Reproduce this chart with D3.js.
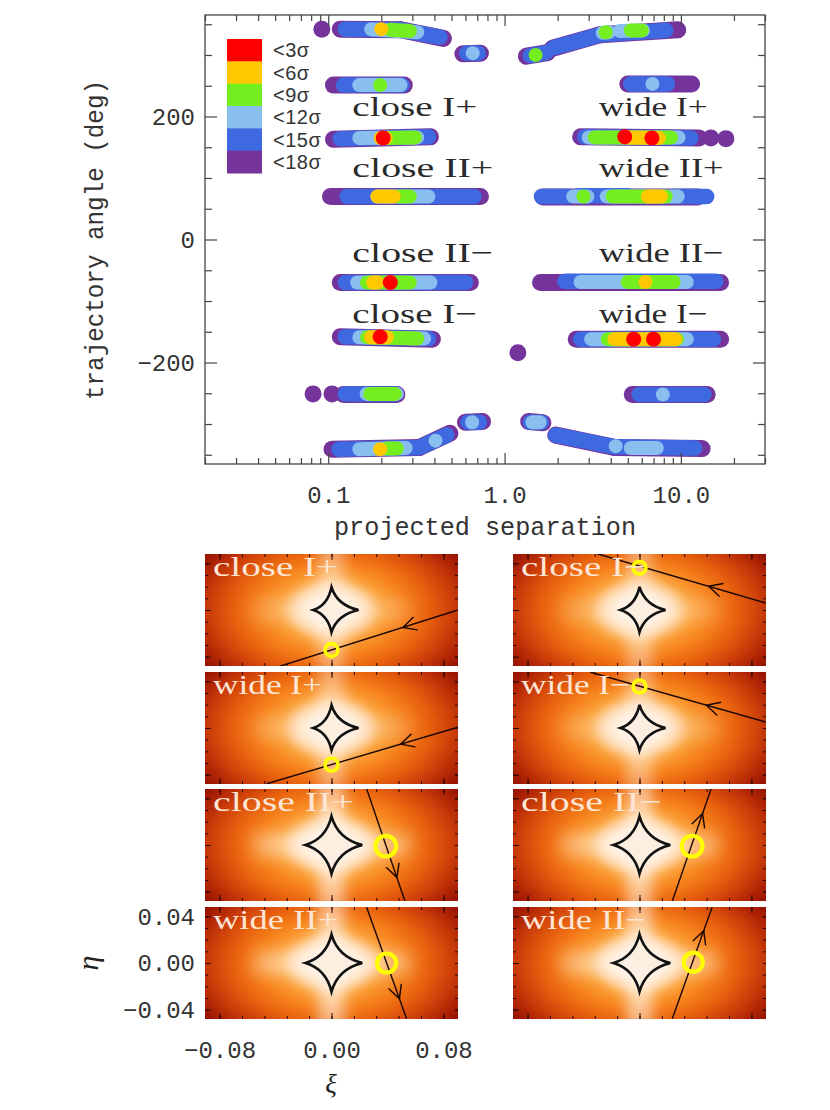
<!DOCTYPE html>
<html>
<head>
<meta charset="utf-8">
<script src="https://cdn.jsdelivr.net/npm/d3@7"></script>
<style>
  body { margin: 0; background: #fff; }
  svg { display: block; }
</style>
</head>
<body>
<svg width="830" height="1110"></svg>
<script>
// ---------- data ----------
const levels = ["<3σ", "<6σ", "<9σ", "<12σ", "<15σ", "<18σ"];
const levelColors = ["#ff0000", "#ffc800", "#74ee1e", "#88bfef", "#3f69e0", "#75349b"];

// runs of overlapping fits: [level, sepStart, sepEnd, angleStart, angleEnd]
const closeRuns = [
  [5, 0.092, 0.092, 342, 342], [5, 0.117, 0.257, 342, 341], [5, 0.257, 0.45, 341, 327],
  [4, 0.125, 0.257, 342, 341], [4, 0.257, 0.43, 341, 329], [3, 0.175, 0.32, 342, 337],
  [2, 0.225, 0.29, 341, 339], [1, 0.2, 0.2, 342, 342],
  [5, 0.58, 0.73, 302, 303], [4, 0.61, 0.71, 303, 303], [3, 0.66, 0.66, 303, 303],
  [5, 0.107, 0.27, 251, 251], [4, 0.122, 0.262, 251, 251], [3, 0.15, 0.257, 251, 251],
  [2, 0.197, 0.197, 251, 251],
  [5, 0.107, 0.38, 163, 167], [4, 0.117, 0.37, 164, 167], [3, 0.15, 0.32, 165, 166],
  [2, 0.22, 0.31, 165, 166], [1, 0.198, 0.212, 165, 165], [0, 0.205, 0.205, 165, 165],
  [5, 0.103, 0.73, 70, 70], [4, 0.128, 0.67, 70, 70], [3, 0.19, 0.37, 70, 70],
  [2, 0.25, 0.29, 70, 70], [1, 0.19, 0.235, 70, 70],
  [5, 0.117, 0.64, -70, -70], [4, 0.125, 0.6, -70, -70], [3, 0.146, 0.38, -70, -70],
  [2, 0.166, 0.29, -70, -70], [1, 0.18, 0.19, -70, -70], [0, 0.225, 0.225, -70, -70],
  [5, 0.117, 0.39, -158, -162], [4, 0.125, 0.37, -158, -161], [3, 0.15, 0.35, -159, -161],
  [2, 0.166, 0.32, -159, -161], [1, 0.175, 0.215, -159, -159], [0, 0.197, 0.197, -158, -158],
  [5, 0.082, 0.082, -251, -251], [5, 0.105, 0.105, -251, -251], [5, 0.122, 0.245, -252, -252],
  [4, 0.125, 0.24, -251, -251], [3, 0.165, 0.245, -251, -251], [2, 0.173, 0.238, -251, -251],
  [5, 0.105, 0.33, -341, -338], [5, 0.33, 0.49, -338, -315], [4, 0.115, 0.33, -341, -338],
  [4, 0.33, 0.47, -338, -318], [3, 0.15, 0.275, -341, -339], [3, 0.406, 0.406, -327, -327],
  [2, 0.215, 0.245, -340, -340], [1, 0.197, 0.197, -341, -341],
  [5, 0.6, 0.75, -297, -296], [4, 0.62, 0.72, -297, -297], [3, 0.655, 0.655, -297, -297],
  [5, 1.19, 1.19, -184, -184]
];
const wideRuns = [
  [5, 1.33, 1.75, 298, 304], [4, 1.4, 1.72, 299, 304], [2, 1.5, 1.5, 300, 300],
  [5, 1.87, 3.5, 311, 333], [5, 3.5, 9.6, 333, 341], [4, 1.9, 3.5, 312, 333],
  [4, 3.5, 8.2, 333, 340], [3, 3.6, 3.9, 336, 337], [3, 4.5, 6.1, 339, 340],
  [2, 3.75, 3.75, 337, 337], [2, 5.2, 6.0, 340, 340],
  [5, 5.0, 11.5, 253, 253], [4, 5.2, 8.4, 253, 253], [3, 6.9, 6.9, 253, 253],
  [5, 2.7, 12.7, 167, 165], [5, 14.8, 14.8, 165, 165], [5, 18.0, 18.0, 164, 164],
  [4, 2.85, 11.4, 167, 165], [3, 3.0, 9.7, 166, 166], [2, 3.25, 8.8, 166, 166],
  [1, 5.0, 7.5, 166, 165], [0, 4.8, 4.8, 167, 167], [0, 6.85, 6.85, 165, 165],
  [5, 1.65, 12.5, 69, 69], [4, 1.62, 2.3, 70, 70], [4, 2.6, 5.0, 71, 71],
  [4, 9.0, 14.0, 70, 70], [3, 2.45, 2.95, 70, 70], [3, 3.8, 9.6, 70, 70],
  [2, 2.8, 2.8, 70, 70], [2, 4.1, 8.2, 70, 70], [1, 6.5, 7.7, 70, 70],
  [5, 1.6, 16.8, -70, -70], [4, 2.2, 15.8, -68, -68], [3, 2.7, 10.8, -69, -69],
  [2, 5.0, 9.1, -69, -69], [1, 6.3, 6.3, -69, -69],
  [5, 2.55, 16.8, -162, -162], [4, 2.7, 15.3, -162, -162], [3, 3.1, 10.8, -162, -162],
  [2, 3.85, 9.5, -162, -162], [1, 4.2, 9.3, -162, -162], [0, 5.4, 5.4, -162, -162],
  [0, 7.0, 7.0, -162, -162],
  [5, 5.3, 14.1, -252, -252], [4, 5.8, 13.5, -252, -252], [3, 7.9, 7.9, -252, -252],
  [5, 1.37, 1.65, -296, -298], [4, 1.4, 1.62, -297, -297], [3, 1.44, 1.58, -297, -297],
  [5, 1.95, 4.2, -318, -338], [5, 4.2, 13.2, -338, -340], [4, 1.95, 4.2, -318, -337],
  [4, 4.2, 12.0, -337, -339], [3, 4.27, 4.27, -336, -336], [3, 5.2, 7.3, -339, -339]
];

const sepTicks = [0.1, 1, 10];
const sepTickLabels = ["0.1", "1.0", "10.0"];
const angleTicks = [-200, 0, 200];

const topLabels = ["close I+", "close II+", "close II−", "close I−", "wide I+", "wide II+", "wide II−", "wide I−"];
const topLabelSep = [0.137, 0.137, 0.137, 0.137, 3.42, 3.42, 3.42, 3.42];
const topLabelAngle = [200, 102, -36, -135, 200, 102, -36, -135];

// lower panels (xi, eta), order: row by row, left then right
const panelNames = ["close I+", "close I−", "wide I+", "wide I−", "close II+", "close II−", "wide II+", "wide II−"];
const trajStart = [[0.0904, 0.0], [0.0904, 0.006], [0.0904, 0.0007], [0.0904, 0.005],
                   [0.0251, 0.0482], [0.0234, -0.0482], [0.0251, 0.0478], [0.0234, -0.0478]];
const trajEnd = [[-0.0368, -0.0482], [-0.0302, 0.0482], [-0.0463, -0.0478], [-0.035, 0.0478],
                 [0.0525, -0.0482], [0.0512, 0.0482], [0.0537, -0.0478], [0.0519, 0.0478]];
const arrowAt = [0.31, 0.34, 0.30, 0.34, 0.79, 0.78, 0.82, 0.79];
const sourcePos = [[0, -0.0343], [0, 0.0362], [0, -0.0314], [0, 0.0356],
                   [0.0388, -0.001], [0.0376, -0.001], [0.0394, 0.0], [0.0384, 0.0007]];
const sourceRadius = [0.0046, 0.0046, 0.0046, 0.0046, 0.0074, 0.0074, 0.0068, 0.0068];
// cusps: [left xi, right xi, top eta, bottom eta]
const causticCusps = [
  [-0.013, 0.0193, 0.0195, -0.019], [-0.0135, 0.0186, 0.0198, -0.019],
  [-0.013, 0.0193, 0.0195, -0.019], [-0.0135, 0.0186, 0.0198, -0.019],
  [-0.0186, 0.022, 0.0246, -0.0246], [-0.0186, 0.022, 0.0246, -0.0246],
  [-0.0186, 0.022, 0.0243, -0.0246], [-0.0186, 0.022, 0.0246, -0.0246]
];
const xiTicks = [-0.08, 0, 0.08];
const etaTicks = [-0.04, 0, 0.04];

// ---------- drawing ----------
const svg = d3.select("svg");
const ink = "#444";
const monoFont = "'Liberation Mono', 'DejaVu Sans Mono', monospace";
const serifFont = "'Liberation Serif', 'DejaVu Serif', serif";

const x = d3.scaleLog().domain([0.02, 30]).range([205, 765]);
const y = d3.scaleLinear().domain([-365, 365]).range([464, 15]);

const runs = closeRuns.concat(wideRuns)
  .map(r => ({lvl: r[0], s0: r[1], s1: r[2], a0: r[3], a1: r[4]}));
const bandWidth = [15, 14, 14, 14, 15.5, 17];

const marks = svg.append("g");
d3.groups(runs, d => d.lvl).sort((a, b) => b[0] - a[0]).forEach(([lvl, rs]) => {
  const g = marks.append("g");
  g.selectAll("line")
    .data(rs.filter(d => d.s0 !== d.s1 || d.a0 !== d.a1))
    .join("line")
    .attr("x1", d => x(d.s0)).attr("x2", d => x(d.s1))
    .attr("y1", d => y(d.a0)).attr("y2", d => y(d.a1))
    .attr("stroke", levelColors[lvl])
    .attr("stroke-width", bandWidth[lvl])
    .attr("stroke-linecap", "round");
  g.selectAll("circle")
    .data(rs.filter(d => d.s0 === d.s1 && d.a0 === d.a1))
    .join("circle")
    .attr("cx", d => x(d.s0)).attr("cy", d => y(d.a0))
    .attr("r", bandWidth[lvl] / 2)
    .attr("fill", levelColors[lvl]);
});

// frame and ticks
function styleAxis(g) {
  g.select(".domain").remove();
  g.selectAll(".tick line").attr("stroke", ink).attr("stroke-width", 1.2);
  g.selectAll("text").attr("font-family", monoFont).attr("font-size", 24).attr("fill", "#333");
}
const sepMinor = x.ticks().filter(v => !sepTicks.some(t => Math.abs(t - v) < 1e-9));
const angMinor = d3.range(-350, 351, 50).filter(v => v % 200 !== 0);

svg.append("g").attr("transform", "translate(0,464)")
  .call(d3.axisBottom(x).tickValues(sepTicks).tickSize(-11).tickPadding(22)
    .tickFormat((d, i) => sepTickLabels[i])).call(styleAxis);
svg.append("g").attr("transform", "translate(0,464)")
  .call(d3.axisBottom(x).tickValues(sepMinor).tickSize(-6).tickFormat("")).call(styleAxis);
svg.append("g").attr("transform", "translate(0,15)")
  .call(d3.axisTop(x).tickValues(sepTicks).tickSize(-11).tickFormat("")).call(styleAxis);
svg.append("g").attr("transform", "translate(0,15)")
  .call(d3.axisTop(x).tickValues(sepMinor).tickSize(-6).tickFormat("")).call(styleAxis);
svg.append("g").attr("transform", "translate(205,0)")
  .call(d3.axisLeft(y).tickValues(angleTicks).tickSize(-12).tickPadding(10)).call(styleAxis);
svg.append("g").attr("transform", "translate(205,0)")
  .call(d3.axisLeft(y).tickValues(angMinor).tickSize(-7).tickFormat("")).call(styleAxis);
svg.append("g").attr("transform", "translate(765,0)")
  .call(d3.axisRight(y).tickValues(angleTicks).tickSize(-12).tickFormat("")).call(styleAxis);
svg.append("g").attr("transform", "translate(765,0)")
  .call(d3.axisRight(y).tickValues(angMinor).tickSize(-7).tickFormat("")).call(styleAxis);
svg.append("rect").attr("x", 205).attr("y", 15).attr("width", 560).attr("height", 449)
  .attr("fill", "none").attr("stroke", ink).attr("stroke-width", 1.3);

// region labels
svg.append("g").selectAll("text").data(topLabels).join("text")
  .attr("x", (d, i) => x(topLabelSep[i]))
  .attr("y", (d, i) => y(topLabelAngle[i]))
  .attr("font-family", serifFont).attr("font-size", 28).attr("fill", "#2a2a2a")
  .attr("textLength", d => d.length * 16 - 3).attr("lengthAdjust", "spacingAndGlyphs")
  .text(d => d);

// legend
const legY = d3.scaleBand().domain(levels).range([39, 173]);
const leg = svg.append("g");
leg.selectAll("rect").data(levels).join("rect")
  .attr("x", 227).attr("y", d => legY(d)).attr("width", 35).attr("height", legY.bandwidth() + 0.5)
  .attr("fill", (d, i) => levelColors[i]);
leg.selectAll("text").data(levels).join("text")
  .attr("x", 273).attr("y", d => legY(d) + legY.bandwidth() / 2)
  .attr("dy", "0.35em")
  .attr("font-family", "'Liberation Sans', Arial, sans-serif").attr("font-size", 20)
  .attr("letter-spacing", 0.5).attr("fill", "#333")
  .text(d => d);

// axis titles
svg.append("text").attr("x", 485).attr("y", 535).attr("text-anchor", "middle")
  .attr("font-family", monoFont).attr("font-size", 25).attr("fill", "#333")
  .attr("textLength", 302).attr("lengthAdjust", "spacingAndGlyphs")
  .text("projected separation");
svg.append("text").attr("transform", "translate(103,240) rotate(-90)").attr("text-anchor", "middle")
  .attr("font-family", monoFont).attr("font-size", 25).attr("fill", "#333")
  .attr("textLength", 320).attr("lengthAdjust", "spacingAndGlyphs")
  .text("trajectory angle (deg)");

// ---------- magnification panels ----------
const panelW = 253, panelH = 112;
const colX = [205, 513], rowY = [554, 672, 789, 907];
const xiDomain = [-0.0904, 0.0904], etaDomain = [-0.048, 0.048];
const xiMinor = d3.range(-5, 6).map(k => k * 0.016);
const etaMinor = d3.range(-4, 5).map(k => k * 0.01);
const magStops = [[0, "#fff6ee"], [0.1, "#ffeedd"], [0.2, "#fdc98a"], [0.32, "#fba038"],
                  [0.46, "#f6821c"], [0.6, "#e9630f"], [0.74, "#d0420a"], [0.88, "#ad2205"],
                  [1, "#8a0c00"]];

const defs = svg.append("defs");
defs.append("filter").attr("id", "soft").attr("x", "-60%").attr("y", "-60%")
  .attr("width", "220%").attr("height", "220%")
  .append("feGaussianBlur").attr("stdDeviation", 7);
const vband = defs.append("linearGradient").attr("id", "vband")
  .attr("x1", 0).attr("y1", 0).attr("x2", 0).attr("y2", 1);
vband.selectAll("stop").data([[0, 0.55], [0.5, 1], [1, 0.55]]).join("stop")
  .attr("offset", d => d[0]).attr("stop-color", "#fff3e6").attr("stop-opacity", d => d[1]);
const hband = defs.append("linearGradient").attr("id", "hband")
  .attr("x1", 0).attr("y1", 0).attr("x2", 1).attr("y2", 0);
hband.selectAll("stop").data([[0, 0.3], [0.5, 1], [1, 0.3]]).join("stop")
  .attr("offset", d => d[0]).attr("stop-color", "#fff3e6").attr("stop-opacity", d => d[1]);

function panelTicks(g, px, py, x0, y0, withLabels) {
  const tk = g2 => {
    g2.select(".domain").remove();
    g2.selectAll(".tick line").attr("stroke", "#2a0800").attr("stroke-width", 1);
    g2.selectAll("text").attr("font-family", monoFont).attr("font-size", 24).attr("fill", "#333");
  };
  g.append("g").attr("transform", `translate(0,${y0 + panelH})`)
    .call(d3.axisBottom(px).tickValues(xiTicks).tickSize(-6).tickPadding(22)
      .tickFormat(withLabels ? d3.format(".2f") : "")).call(tk);
  g.append("g").attr("transform", `translate(0,${y0 + panelH})`)
    .call(d3.axisBottom(px).tickValues(xiMinor).tickSize(-3).tickFormat("")).call(tk);
  g.append("g").attr("transform", `translate(0,${y0})`)
    .call(d3.axisTop(px).tickValues(xiMinor).tickSize(-3).tickFormat("")).call(tk);
  g.append("g").attr("transform", `translate(0,${y0})`)
    .call(d3.axisTop(px).tickValues(xiTicks).tickSize(-6).tickFormat("")).call(tk);
  g.append("g").attr("transform", `translate(${x0},0)`)
    .call(d3.axisLeft(py).tickValues(etaTicks).tickSize(-6).tickPadding(10)
      .tickFormat(withLabels ? d3.format(".2f") : "")).call(tk);
  g.append("g").attr("transform", `translate(${x0},0)`)
    .call(d3.axisLeft(py).tickValues(etaMinor).tickSize(-3).tickFormat("")).call(tk);
  g.append("g").attr("transform", `translate(${x0 + panelW},0)`)
    .call(d3.axisRight(py).tickValues(etaTicks.concat(etaMinor)).tickSize(-3).tickFormat("")).call(tk);
}

panelNames.forEach((name, i) => {
  const x0 = colX[i % 2], y0 = rowY[Math.floor(i / 2)];
  const px = d3.scaleLinear().domain(xiDomain).range([x0, x0 + panelW]);
  const py = d3.scaleLinear().domain(etaDomain).range([y0 + panelH, y0]);
  const cx = px(0), cy = py(0);
  const wideCaustic = name.includes("II");

  const grad = defs.append("radialGradient").attr("id", "mag" + i)
    .attr("gradientUnits", "userSpaceOnUse")
    .attr("cx", cx).attr("cy", cy).attr("r", 160)
    .attr("gradientTransform", `translate(${cx},${cy}) scale(1,0.62) translate(${-cx},${-cy})`);
  grad.selectAll("stop").data(magStops).join("stop")
    .attr("offset", d => d[0]).attr("stop-color", d => d[1]);
  defs.append("clipPath").attr("id", "clip" + i)
    .append("rect").attr("x", x0).attr("y", y0).attr("width", panelW).attr("height", panelH);

  const g = svg.append("g");
  const bg = g.append("g").attr("clip-path", `url(#clip${i})`);
  bg.append("rect").attr("x", x0).attr("y", y0).attr("width", panelW).attr("height", panelH)
    .attr("fill", `url(#mag${i})`);
  bg.append("rect").attr("x", cx - 13).attr("y", y0 - 12).attr("width", 26).attr("height", panelH + 24)
    .attr("fill", "url(#vband)").attr("opacity", wideCaustic ? 0.85 : 0.6).attr("filter", "url(#soft)");
  bg.append("rect").attr("x", cx - 80).attr("y", cy - 12).attr("width", 160).attr("height", 24)
    .attr("fill", "url(#hband)").attr("opacity", wideCaustic ? 0.85 : 0.4).attr("filter", "url(#soft)");
  bg.append("ellipse").attr("cx", cx).attr("cy", cy).attr("rx", 40).attr("ry", 28)
    .attr("fill", "#fff5ec").attr("opacity", 0.6).attr("filter", "url(#soft)");

  // caustic
  const [xl, xr, yt, yb] = causticCusps[i];
  const k = 0.21;
  const p = d3.path();
  p.moveTo(px(xl), py(0));
  p.quadraticCurveTo(px(k * xl), py(k * yt), px(0), py(yt));
  p.quadraticCurveTo(px(k * xr), py(k * yt), px(xr), py(0));
  p.quadraticCurveTo(px(k * xr), py(k * yb), px(0), py(yb));
  p.quadraticCurveTo(px(k * xl), py(k * yb), px(xl), py(0));
  p.closePath();
  bg.append("path").attr("d", p.toString())
    .attr("fill", "#fdeee2").attr("stroke", "#111").attr("stroke-width", 2.6)
    .attr("stroke-linejoin", "miter");

  // trajectory
  const s = trajStart[i], e = trajEnd[i];
  bg.append("line")
    .attr("x1", px(s[0])).attr("y1", py(s[1])).attr("x2", px(e[0])).attr("y2", py(e[1]))
    .attr("stroke", "#1a0500").attr("stroke-width", 1.4);
  const f = arrowAt[i];
  const ax = px(s[0] + f * (e[0] - s[0])), ay = py(s[1] + f * (e[1] - s[1]));
  const ddx = px(e[0]) - px(s[0]), ddy = py(e[1]) - py(s[1]);
  const len = Math.hypot(ddx, ddy), bx = -ddx / len, by = -ddy / len;
  const th = 27 * Math.PI / 180, arm = 15;
  const arms = [th, -th].map(t => [ax + arm * (bx * Math.cos(t) - by * Math.sin(t)),
                                   ay + arm * (bx * Math.sin(t) + by * Math.cos(t))]);
  bg.append("path")
    .attr("d", `M${arms[0][0]},${arms[0][1]}L${ax},${ay}L${arms[1][0]},${arms[1][1]}`)
    .attr("fill", "none").attr("stroke", "#1a0500").attr("stroke-width", 1.4);

  // source
  const sp = sourcePos[i];
  bg.append("circle").attr("cx", px(sp[0])).attr("cy", py(sp[1]))
    .attr("r", px(sp[0] + sourceRadius[i]) - px(sp[0]))
    .attr("fill", "none").attr("stroke", "#ffff00").attr("stroke-width", wideCaustic ? 4.2 : 3.6);

  // label
  bg.append("text").attr("x", x0 + 8).attr("y", y0 + 22)
    .attr("font-family", serifFont).attr("font-size", 28).attr("fill", "#fde6d6")
    .attr("textLength", name.length * 16 - 3).attr("lengthAdjust", "spacingAndGlyphs")
    .text(name);

  panelTicks(g, px, py, x0, y0, i === 6);
});

// lower axis titles
svg.append("text").attr("x", 331).attr("y", 1093).attr("text-anchor", "middle")
  .attr("font-family", serifFont).attr("font-style", "italic").attr("font-size", 27).attr("fill", "#222")
  .text("ξ");
svg.append("text").attr("transform", "translate(98,963) rotate(-90)").attr("text-anchor", "middle")
  .attr("font-family", serifFont).attr("font-style", "italic").attr("font-size", 30).attr("fill", "#222")
  .text("η");
</script>
</body>
</html>
